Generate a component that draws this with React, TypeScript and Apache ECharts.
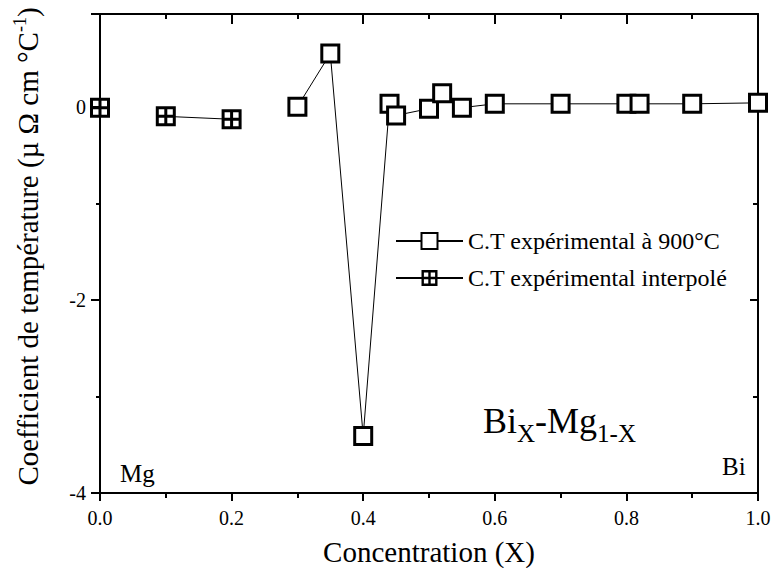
import React, { useEffect, useRef } from "react";
import * as echarts from "echarts";

// ---- data ----
const seriesNames = ["C.T expérimental à 900°C", "C.T expérimental interpolé"];
const expX = [0.3, 0.35, 0.4, 0.44, 0.45, 0.5, 0.52, 0.55, 0.6, 0.7, 0.8, 0.82, 0.9, 1.0];
const expY = [0.0, 0.55, -3.41, 0.03, -0.09, -0.02, 0.14, -0.01, 0.03, 0.03, 0.03, 0.03, 0.03, 0.04];
const interpX = [0.1, 0.2];
const interpY = [-0.1, -0.13];
const pureMgX = [0.0];
const pureMgY = [-0.01];
const xTicks = { min: 0, max: 1, interval: 0.2 };
const yTicks = { min: -4, max: 0.96, interval: 2 };

const FONT = "Liberation Serif";
const CROSS_SQUARE =
  "path://M0,0H20V20H0Z M3,3V8.5H8.5V3Z M11.5,3V8.5H17V3Z M3,11.5V17H8.5V11.5Z M11.5,11.5V17H17V11.5Z";

const zip = (xs: number[], ys: number[]) => xs.map((x, i) => [x, ys[i]]);

export default function App() {
  const ref = useRef<HTMLDivElement>(null);
  useEffect(() => {
    if (!ref.current) return;
    const chart = echarts.init(ref.current, null, { renderer: "svg" });
    const axisLine = { show: true, onZero: false, lineStyle: { color: "#000", width: 2 } };
    const label = { color: "#000", fontFamily: FONT, fontSize: 20 };
    const option: any = {
      animation: false,
      backgroundColor: "#fff",
      textStyle: { fontFamily: FONT, color: "#000" },
      grid: { left: 100, right: 17, top: 14, bottom: 75, containLabel: false, outerBoundsMode: "none" },
      legend: {
        data: seriesNames,
        orient: "vertical",
        left: 395,
        top: 229,
        padding: 0,
        itemWidth: 67,
        itemHeight: 20,
        itemGap: 13,
        textStyle: { color: "#000", fontFamily: FONT, fontSize: 24 },
      },
      xAxis: [
        {
          type: "value",
          position: "bottom",
          min: xTicks.min,
          max: xTicks.max,
          interval: xTicks.interval,
          axisLine,
          axisTick: { show: true, inside: false, length: 8, lineStyle: { color: "#000", width: 2 } },
          minorTick: { show: true, splitNumber: 2, length: 5, lineStyle: { color: "#000", width: 2 } },
          axisLabel: { ...label, margin: 15, formatter: (v: number) => v.toFixed(1) },
          splitLine: { show: false },
          name: "Concentration (X)",
          nameLocation: "middle",
          nameGap: 45,
          nameTextStyle: { color: "#000", fontFamily: FONT, fontSize: 29, lineHeight: 28 },
        },
        {
          type: "value",
          position: "top",
          min: xTicks.min,
          max: xTicks.max,
          interval: xTicks.interval,
          axisLine,
          axisTick: { show: true, inside: true, length: 10, lineStyle: { color: "#000", width: 2 } },
          minorTick: { show: true, splitNumber: 2, length: 5, lineStyle: { color: "#000", width: 2 } },
          axisLabel: { show: false },
          splitLine: { show: false },
        },
      ],
      yAxis: [
        {
          type: "value",
          position: "left",
          z: 3,
          min: yTicks.min,
          max: yTicks.max,
          interval: yTicks.interval,
          axisLine,
          axisTick: { show: true, inside: false, length: 9, lineStyle: { color: "#000", width: 2 } },
          minorTick: { show: true, splitNumber: 2, length: 4, lineStyle: { color: "#000", width: 2 } },
          axisLabel: { ...label, margin: 14, showMaxLabel: false },
          splitLine: { show: false },
          name: "Coefficient de température (µ Ω cm °C{sup|-1})",
          nameLocation: "middle",
          nameGap: 55,
          nameTextStyle: {
            color: "#000",
            fontFamily: FONT,
            fontSize: 29,
            lineHeight: 34,
            padding: [0, 0, 0, 14],
            rich: {
              sup: { color: "#000", fontFamily: FONT, fontSize: 18, lineHeight: 22, verticalAlign: "top" },
            },
          },
        },
        {
          type: "value",
          position: "right",
          z: 3,
          min: yTicks.min,
          max: yTicks.max,
          interval: yTicks.interval,
          axisLine,
          axisTick: { show: true, inside: true, length: 8, lineStyle: { color: "#000", width: 2 } },
          minorTick: { show: true, splitNumber: 2, length: 5, lineStyle: { color: "#000", width: 2 } },
          axisLabel: { show: false },
          splitLine: { show: false },
        },
      ],
      series: [
        {
          name: seriesNames[0],
          type: "line",
          xAxisIndex: 0,
          yAxisIndex: 0,
          data: zip(expX, expY),
          symbol: "rect",
          symbolSize: 17,
          lineStyle: { color: "#000", width: 1 },
          itemStyle: { color: "#fff", borderColor: "#000", borderWidth: 3 },
          clip: false,
        },
        {
          name: seriesNames[1],
          type: "line",
          xAxisIndex: 0,
          yAxisIndex: 0,
          data: zip(interpX, interpY),
          symbol: CROSS_SQUARE,
          symbolSize: 20,
          lineStyle: { color: "#000", width: 1 },
          itemStyle: { color: "#000" },
          clip: false,
        },
        {
          name: "Mg",
          type: "line",
          xAxisIndex: 0,
          yAxisIndex: 0,
          data: zip(pureMgX, pureMgY),
          symbol: CROSS_SQUARE,
          symbolSize: 20,
          lineStyle: { color: "#000", width: 1 },
          itemStyle: { color: "#000" },
          clip: false,
        },
      ],
      graphic: [
        {
          type: "text",
          z: 10,
          style: { x: 120, y: 473, text: "Mg", fill: "#000", font: `25px ${FONT}`, verticalAlign: "middle" },
        },
        {
          type: "text",
          z: 10,
          style: { x: 722, y: 466, text: "Bi", fill: "#000", font: `25px ${FONT}`, verticalAlign: "middle" },
        },
        {
          type: "text",
          z: 10,
          style: {
            x: 483,
            y: 396,
            verticalAlign: "top",
            text: "{m|Bi}{s|X}{m|-Mg}{s|1-X}",
            fill: "#000",
            rich: {
              m: { fill: "#000", fontFamily: FONT, fontSize: 36, lineHeight: 50 },
              s: { fill: "#000", fontFamily: FONT, fontSize: 25, lineHeight: 25, verticalAlign: "bottom" },
            },
          },
        },
      ],
    };
    chart.setOption(option);
    return () => chart.dispose();
  }, []);
  return (
    <div
      ref={ref}
      style={{ position: "fixed", left: 0, top: 0, width: 775, height: 568, background: "#fff" }}
    />
  );
}
